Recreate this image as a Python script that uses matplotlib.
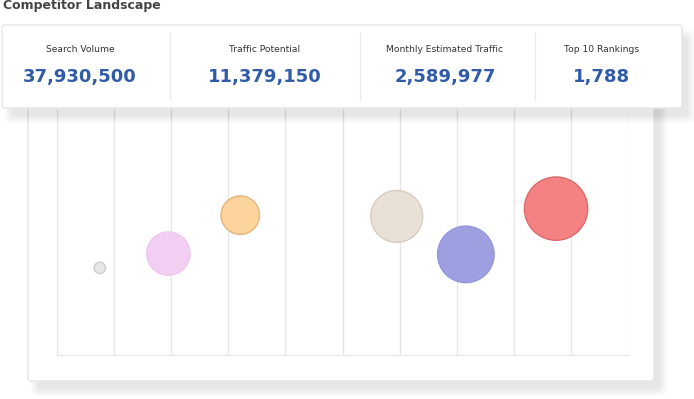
import matplotlib.pyplot as plt
from matplotlib.patches import FancyBboxPatch
import numpy as np

# summary card data
card_labels = ["Search Volume", "Traffic Potential", "Monthly Estimated Traffic", "Top 10 Rankings"]
card_values = ["37,930,500", "11,379,150", "2,589,977", "1,788"]

# bubble data (position on x scale, y value, bubble size)
bubble_x = [0.75, 1.95, 3.21, 5.95, 7.16, 8.74]
bubble_y = [33.5, 39.0, 53.8, 53.3, 38.7, 56.3]
bubble_size = [32, 470, 372, 676, 801, 1005]
bubble_fill = ["#e8e8e8", "#f3cef3", "#fed49d", "#e9e0d8", "#9e9fe0", "#f48282"]
bubble_edge = ["#cccccc", "#efc6ef", "#e6b57c", "#d9ccc0", "#9496dc", "#dc6a6a"]

W, H = 694, 399
fig = plt.figure(figsize=(W / 100, H / 100), dpi=100)

# background layer in pixel coordinates
bg = fig.add_axes([0, 0, 1, 1], zorder=0)
bg.set_xlim(0, W)
bg.set_ylim(H, 0)
bg.axis("off")


def card(ax, x0, y0, x1, y1, dx, dy):
    # soft shadow, several layers so the edge fades out
    for k in range(8):
        ax.add_patch(FancyBboxPatch((x0 + dx - k + 2, y0 + dy - k + 2),
                                    x1 - x0 + 2 * k - 4, y1 - y0 + 2 * k - 4,
                                    boxstyle="round,pad=0,rounding_size=5",
                                    fc="#000000", ec="none", alpha=0.012))
    ax.add_patch(FancyBboxPatch((x0, y0), x1 - x0, y1 - y0,
                                boxstyle="round,pad=0,rounding_size=3",
                                fc="white", ec="#e6e6e6", lw=1))


# chart card
card(bg, 28, 60, 654, 381, 8, 10)

# bubble chart
ax = fig.add_axes([57 / W, 1 - 355 / H, (628 - 57) / W, (355 - 95) / H], zorder=1)
ax.patch.set_alpha(0)
ax.set_xlim(0, 10)
ax.set_ylim(0, 100)
ax.set_xticks(np.arange(0, 11))
ax.set_yticks([])
ax.tick_params(length=0, labelbottom=False)
ax.grid(axis="x", color="#e6e6e6", lw=1)
for s in ["top", "right", "left"]:
    ax.spines[s].set_visible(False)
ax.spines["bottom"].set_color("#e6e6e6")
ax.scatter(bubble_x, bubble_y, s=[2.07 * v for v in bubble_size],
           c=bubble_fill, edgecolors=bubble_edge, linewidths=1, zorder=3)

# top summary card
top = fig.add_axes([0, 0, 1, 1], zorder=2)
top.set_xlim(0, W)
top.set_ylim(H, 0)
top.axis("off")
card(top, 2, 25, 682, 108, 8, 10)

top.text(3, 5, "Competitor Landscape", fontsize=9, fontweight="bold",
         color="#444444", va="center", ha="left")

centers = [80, 265, 445, 602]
for d in [170, 360, 535]:
    top.plot([d, d], [32, 100], color="#ececec", lw=1)
for cx, lab, val in zip(centers, card_labels, card_values):
    top.text(cx, 50, lab, fontsize=6.6, color="#333333", ha="center", va="center")
    top.text(cx, 77, val, fontsize=13, fontweight="bold", color="#2f5ba8",
             ha="center", va="center")

fig.savefig("out.png", dpi=100)
